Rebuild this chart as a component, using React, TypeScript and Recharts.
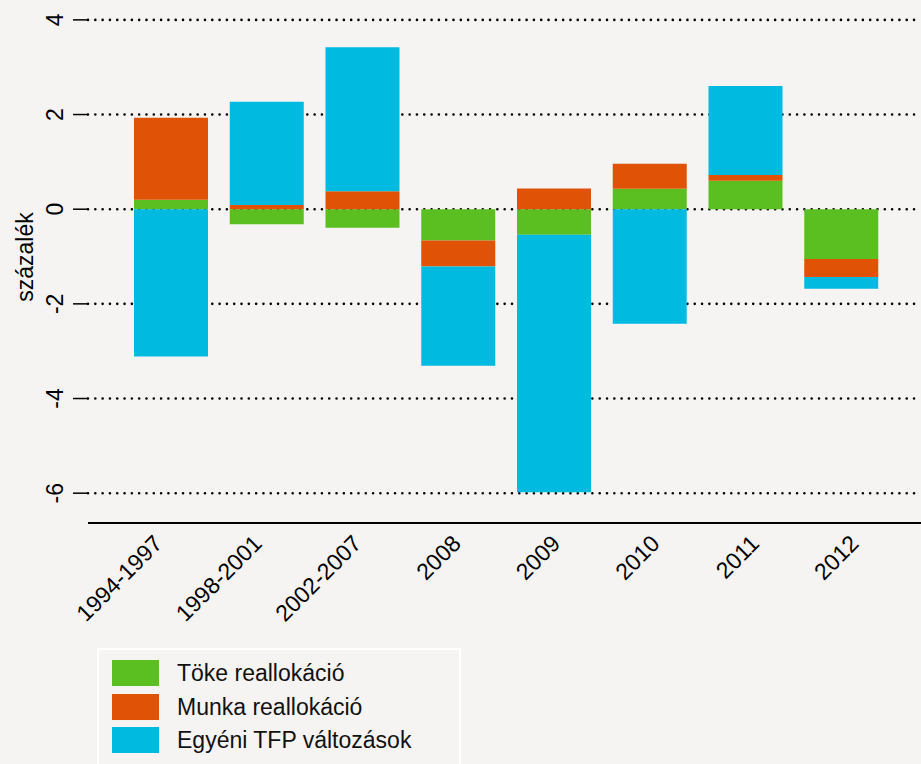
import React from 'react';
import { BarChart, Bar, XAxis, YAxis, CartesianGrid, Label } from 'recharts';

const categories = ['1994-1997', '1998-2001', '2002-2007', '2008', '2009', '2010', '2011', '2012'];
const tokeReallokacio = [0.2, -0.32, -0.39, -0.66, -0.54, 0.43, 0.6, -1.05];
const munkaReallokacio = [1.73, 0.09, 0.38, -0.55, 0.435, 0.53, 0.12, -0.38];
const egyeniTFP = [-3.11, 2.18, 3.04, -2.1, -5.44, -2.42, 1.885, -0.25];
const yTicks = [-6, -4, -2, 0, 2, 4];
const seriesKeys = ['toke', 'munka', 'tfp'];
const seriesNames = ['Töke reallokáció', 'Munka reallokáció', 'Egyéni TFP változások'];
const seriesColors = ['#5bbf21', '#e05206', '#00bae0'];
const yLabel = 'százalék';

const data = categories.map((c, i) => ({
  cat: c,
  toke: tokeReallokacio[i],
  munka: munkaReallokacio[i],
  tfp: egyeniTFP[i],
}));

const FONT = '"Liberation Sans", Arial, Helvetica, sans-serif';
const BG = '#f5f4f2';

const XTick = (props: any) => {
  const { x, y, payload, index } = props;
  const ex = x - 7 + index * 3.7;
  const ey = y + 22;
  return (
    <text
      x={ex}
      y={ey}
      textAnchor="end"
      transform={`rotate(-45, ${ex}, ${ey})`}
      fontSize={23}
      fontFamily={FONT}
      fill="#000"
    >
      {payload.value}
    </text>
  );
};

const YTick = (props: any) => {
  const { x, y, payload } = props;
  const tx = x - 8;
  return (
    <text
      x={tx}
      y={y}
      textAnchor="middle"
      transform={`rotate(-90, ${tx}, ${y})`}
      fontSize={23}
      fontFamily={FONT}
      fill="#000"
    >
      {payload.value}
    </text>
  );
};

const LegendBox = () => (
  <div
    style={{
      position: 'absolute',
      left: 97,
      top: 648,
      width: 364,
      height: 130,
      border: '2px solid #ffffff',
      boxSizing: 'border-box',
      fontFamily: FONT,
      fontSize: 23,
      color: '#111',
    }}
  >
    {seriesNames.map((name, i) => (
      <div
        key={name}
        style={{ position: 'absolute', left: 13, top: 10 + i * 33.7, height: 26, display: 'flex', alignItems: 'center' }}
      >
        <div style={{ width: 47, height: 26, background: seriesColors[i] }} />
        <span style={{ marginLeft: 18, whiteSpace: 'nowrap', lineHeight: '26px' }}>{name}</span>
      </div>
    ))}
  </div>
);

export default function App() {
  return (
    <div
      style={{
        position: 'absolute',
        left: 0,
        top: 0,
        width: 921,
        height: 764,
        background: BG,
        overflow: 'hidden',
      }}
    >
      <BarChart
        width={921}
        height={764}
        data={data}
        stackOffset="sign"
        margin={{ top: 0, right: 0, bottom: 0, left: 0 }}
      >
        <CartesianGrid
          horizontal={true}
          vertical={false}
          syncWithTicks={true}
          stroke="#000"
          strokeWidth={2.6}
          strokeLinecap="round"
          strokeDasharray="0.01 7.3"
        />
        <XAxis
          dataKey="cat"
          type="category"
          height={241}
          padding={{ left: 35, right: 32 }}
          axisLine={{ stroke: '#000', strokeWidth: 2 }}
          tickLine={false}
          tickSize={0}
          tickMargin={0}
          interval={0}
          tick={<XTick />}
        />
        <YAxis
          type="number"
          domain={[-6.63, 4.42]}
          ticks={yTicks}
          allowDataOverflow={true}
          width={88}
          axisLine={false}
          tickLine={{ stroke: '#000', strokeWidth: 1.5 }}
          tickSize={15}
          tick={<YTick />}
        >
          <Label
            content={() => (
              <text
                x={33}
                y={257}
                textAnchor="middle"
                transform="rotate(-90, 33, 257)"
                fontSize={23}
                fontFamily={FONT}
                fill="#000"
              >
                {yLabel}
              </text>
            )}
          />
        </YAxis>
        {seriesKeys.map((k, i) => (
          <Bar
            key={k}
            dataKey={k}
            name={seriesNames[i]}
            stackId="a"
            fill={seriesColors[i]}
            barSize={74}
            isAnimationActive={false}
          />
        ))}
      </BarChart>
      <LegendBox />
    </div>
  );
}
